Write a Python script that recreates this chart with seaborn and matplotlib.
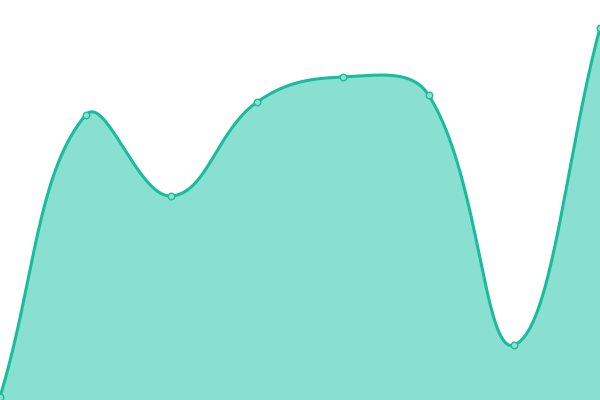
import numpy as np
import matplotlib
matplotlib.use("Agg")
import matplotlib.pyplot as plt
import seaborn as sns

sns.set_style("white")

# data (y in chart units, 0..400)
labels = ["a", "b", "c", "d", "e", "f", "g", "h"]
values = [3, 285, 204, 298, 323, 305, 55, 372]

line_color = "#1abc9c"
fill_color = "#89e0d0"
tension = 0.4


def smooth(xs, ys, tension=0.4, n=40):
    # bezier spline through the points, control points like chart.js
    xs = np.asarray(xs, float)
    ys = np.asarray(ys, float)
    pts = np.column_stack([xs, ys])
    cps = []
    for i in range(len(pts)):
        prev = pts[max(i - 1, 0)]
        cur = pts[i]
        nxt = pts[min(i + 1, len(pts) - 1)]
        d01 = np.hypot(*(cur - prev))
        d12 = np.hypot(*(nxt - cur))
        tot = d01 + d12
        s01 = d01 / tot if tot else 0
        s12 = d12 / tot if tot else 0
        c1 = cur - tension * s01 * (nxt - prev)
        c2 = cur + tension * s12 * (nxt - prev)
        c1[1] = np.clip(c1[1], 0, 400)
        c2[1] = np.clip(c2[1], 0, 400)
        cps.append((c1, c2))
    out = []
    t = np.linspace(0, 1, n)[:, None]
    for i in range(len(pts) - 1):
        p0 = pts[i]
        p1 = cps[i][1]
        p2 = cps[i + 1][0]
        p3 = pts[i + 1]
        seg = ((1 - t) ** 3) * p0 + 3 * ((1 - t) ** 2) * t * p1 \
            + 3 * (1 - t) * t ** 2 * p2 + t ** 3 * p3
        out.append(seg if i == 0 else seg[1:])
    out = np.vstack(out)
    return out[:, 0], out[:, 1]


fig = plt.figure(figsize=(6, 4), dpi=100)
ax = fig.add_axes([0, 0, 1, 1])

# work in pixel units on x so the spline looks right
px = np.arange(len(values)) * 600 / (len(values) - 1)
sx, sy = smooth(px, values, tension)

ax.fill_between(sx, 0, sy, color=fill_color, linewidth=0)
sns.lineplot(x=sx, y=sy, color=line_color, linewidth=2.2, ax=ax,
             sort=False, estimator=None)
sns.scatterplot(x=px, y=values, s=22, color="#8ce0d0", edgecolor=line_color,
                linewidth=1, ax=ax, zorder=5, clip_on=False)

ax.set_xlim(0, 600)
ax.set_ylim(0, 400)
ax.axis("off")

fig.savefig("out.png", dpi=100)
